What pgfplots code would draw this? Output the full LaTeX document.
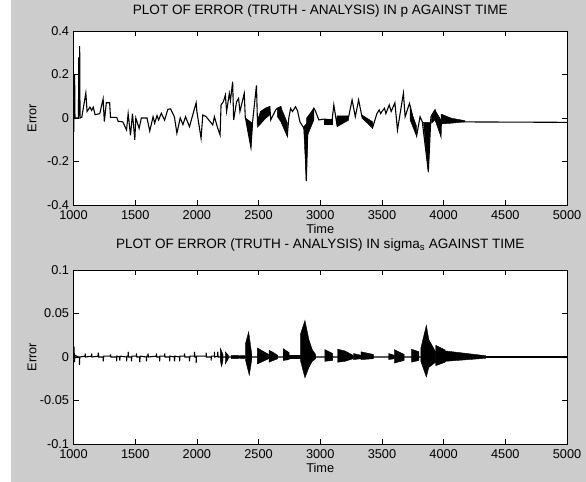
\documentclass[border=0pt]{standalone}
\usepackage{fontspec}
\setmainfont{Liberation Sans}
\usepackage{pgfplots}
\pgfplotsset{compat=1.18}
\definecolor{figgray}{RGB}{204,204,204}
\newcommand{\tickfont}{\fontsize{12.8}{15}\selectfont}
\newcommand{\titlefont}{\fontsize{13.6}{15}\selectfont}
\pgfplotsset{
  errplot/.style={
    scale only axis, width=493.5bp, height=174bp,
    xmin=1000, xmax=5000,
    xtick={1000,1500,...,5000},
    xticklabels={1000,1500,2000,2500,3000,3500,4000,4500,5000},
    axis background/.style={fill=white},
    axis line style={black, line width=0.6bp},
    major tick style={black, line width=0.6bp},
    major tick length=5bp,
    tick align=inside,
    minor tick num=0,
    ticklabel style={font=\tickfont},
    xticklabel style={anchor=base, yshift=-14.5bp},
    yticklabel style={anchor=east, xshift=-1bp},
    xlabel={Time}, ylabel={Error},
    label style={font=\tickfont},
    xlabel style={at={(axis description cs:0.5,-0.166)}, anchor=base},
    ylabel style={at={(axis description cs:-0.084,0.5)}, anchor=center},
    title style={font=\titlefont, at={(axis description cs:0.5,1)}, anchor=base},
    cycle list={{black, mark=none}},
  }
}
\begin{document}
\begin{tikzpicture}
\path[use as bounding box] (0,0) rectangle (586bp,482bp);
\fill[white] (0,0) rectangle (586bp,482bp);
\fill[figgray] (11bp,0) rectangle (586bp,482bp);

% ---- error in p ----
\begin{axis}[errplot, at={(73.5bp,451bp)}, anchor=north west,
  ymin=-0.4, ymax=0.4,
  ytick={-0.4,-0.2,0,0.2,0.4},
  yticklabels={-0.4,-0.2,0,0.2,0.4},
  title={PLOT OF ERROR (TRUTH - ANALYSIS) IN p AGAINST TIME},
  title style={yshift=11bp}]
\addplot[black, line width=1.1bp] coordinates {
(1000,0)(1002,-0.065)(1005,0.05)(1009,0.2)(1012,0)(1040,0)(1043,0.28)(1046,0.02)
(1050,0.33)(1053,0)(1067,0.003)(1100,0.115)(1110,0.03)(1133,0.05)(1147,0.035)
(1160,0.05)(1175,0.015)(1213,0.02)(1240,0.088)(1250,-0.017)(1266,0.07)(1293,0.07)
(1300,0.003)(1350,0.003)(1362,-0.015)(1400,-0.018)(1430,-0.055)(1443,0.02)
(1462,-0.08)(1478,0.02)(1497,-0.1)(1505,0)(1532,-0.048)(1550,0)(1596,0)
(1618,-0.06)(1645,0.006)(1658,-0.024)(1677,0.011)(1690,-0.009)(1712,0.022)
(1738,-0.01)(1765,0.04)(1787,0.042)(1818,0.005)(1838,-0.07)(1865,0)(1887,-0.03)
(1908,0.006)(1940,-0.04)(1994,0.07)(2000,0.03)(2034,-0.093)(2048,0.014)
(2075,0.006)(2129,-0.032)(2142,0.006)(2169,-0.047)(2188,-0.078)(2196,0.06)
(2215,0.075)(2231,0.106)(2241,0.03)(2263,0.113)(2272,0.08)(2290,0.167)
(2298,-0.009)(2322,0.075)(2338,0.09)(2349,0.03)(2384,0.113)(2392,0.006)
(2438,-0.135)(2451,-0.02)(2483,0.15)(2491,-0.02)(2518,0.03)(2559,0.045)
(2591,0.052)(2599,-0.009)(2639,0.037)(2653,0.045)(2680,0.052)(2690,-0.005)
(2733,-0.08)(2745,0)(2760,0.044)(2775,0.03)(2800,0.052)(2815,0.035)(2835,-0.017)
(2876,-0.055)(2887,-0.29)(2900,-0.02)(2910,0)(2948,0.045)(2957,0.037)
(2989,-0.009)(3030,-0.005)(3096,-0.009)(3110,0.06)(3137,-0.037)(3140,0.005)
(3230,0.005)(3258,0.083)(3284,0.006)(3311,0.083)(3338,0.006)(3379,-0.009)
(3424,-0.045)(3459,0.02)(3478,0.037)(3490,0.02)(3500,0.03)(3521,0.045)
(3532,0.02)(3559,0.06)(3575,0.03)(3605,0.07)(3626,-0.055)(3674,0.114)
(3688,0.006)(3723,0.067)(3740,0.03)(3782,-0.08)(3809,0.006)(3827,-0.017)
(3876,-0.246)(3897,0.006)(3930,0.037)(3978,-0.08)(3983,0.015)(4064,-0.01)
(4172,-0.018)(5000,-0.02)
};
% envelopes of the fast oscillation
\addplot[fill=black] coordinates {(2397,-0.001)(2438,-0.135)(2451,-0.024)} -- cycle;
\addplot[fill=black] coordinates {(2491,-0.009)(2518,0.029)(2559,0.045)(2591,0.052)(2591,0.014)(2559,-0.001)(2491,-0.043)} -- cycle;
\addplot[fill=black] coordinates {(2653,0.045)(2680,0.052)(2733,-0.022)(2733,-0.086)(2680,-0.017)(2653,0.006)} -- cycle;
\addplot[fill=black] coordinates {(2865,-0.04)(2887,-0.29)(2900,-0.02)} -- cycle;
\addplot[fill=black] coordinates {(2890,0)(2948,0.045)(2948,-0.01)(2890,-0.09)} -- cycle;
\addplot[fill=black] coordinates {(3030,-0.005)(3096,-0.005)(3096,-0.03)(3030,-0.03)} -- cycle;
\addplot[fill=black] coordinates {(3137,0.01)(3230,0.01)(3230,-0.01)(3137,-0.04)} -- cycle;
\addplot[fill=black] coordinates {(3338,0.014)(3424,-0.017)(3424,-0.047)(3338,-0.001)} -- cycle;
\addplot[fill=black] coordinates {(3728,0.045)(3782,-0.04)(3782,-0.086)(3728,-0.009)} -- cycle;
\addplot[fill=black] coordinates {(3836,-0.02)(3876,-0.25)(3892,-0.02)} -- cycle;
\addplot[fill=black] coordinates {(3903,0.014)(3930,0.037)(3978,-0.009)(3978,-0.086)(3930,-0.009)(3903,-0.024)} -- cycle;
\addplot[fill=black] coordinates {(3983,0.017)(4064,-0.001)(4172,-0.012)(4172,-0.018)(4064,-0.024)(3983,-0.027)} -- cycle;
\end{axis}

% ---- error in sigma_s ----
\begin{axis}[errplot, at={(73.5bp,212bp)}, anchor=north west,
  ymin=-0.1, ymax=0.1,
  ytick={-0.1,-0.05,0,0.05,0.1},
  yticklabels={-0.1,-0.05,0,0.05,0.1},
  title={PLOT OF ERROR (TRUTH - ANALYSIS) IN sigma\textsubscript{s} AGAINST TIME},
  title style={yshift=16bp}]
\addplot[black, line width=1.1bp] coordinates {
(1000,0.002)(1004,0.012)(1008,-0.006)(1012,0.002)(1040,0)
(1048,0)(1048,-0.009)(1051,0)(1094,0.001)(1094,0.004)(1097,0)
(1147,0.001)(1147,0.004)(1150,0)(1201,0.001)(1201,0.005)(1204,0)
(1241,0)(1241,-0.005)(1244,0.001)(1300,0.001)(1300,0.003)(1303,0)
(1349,0)(1349,-0.005)(1352,0.001)(1375,0)(1375,-0.004)(1378,0.001)
(1430,0)(1430,-0.005)(1433,0.001)(1443,0.001)(1443,0.006)(1446,0)
(1470,0)(1470,-0.005)(1473,0.001)(1510,0.001)(1510,0.004)(1513,0)
(1537,0)(1537,-0.006)(1540,0.001)(1591,0)(1591,-0.005)(1594,0.001)
(1604,0.001)(1604,0.004)(1607,0)(1672,0.001)(1672,0.004)(1675,0)
(1698,0)(1698,-0.005)(1701,0.001)(1739,0.001)(1739,0.004)(1742,0)
(1779,0)(1779,-0.005)(1782,0.001)(1819,0)(1819,-0.005)(1822,0.001)
(1860,0)(1860,-0.005)(1863,0.001)(1900,0.001)(1900,0.004)(1903,0)
(1940,0)(1940,-0.005)(1943,0.001)(1981,0.001)(1981,0.006)(1984,0)
(1994,0)(1994,-0.007)(1997,0.001)(2075,0.001)(2075,0.005)(2078,0)
(2115,0)(2115,-0.004)(2118,0.001)(2142,0.001)(2142,0.006)(2145,0)
(2169,0.001)(2169,0.006)(2172,0)(5000,0)
};
\addplot[black, line width=1.8bp] coordinates {(4300,0)(5000,0)};
% envelopes of the fast oscillation
\addplot[fill=black] coordinates {(2190,0.010)(2212,0.003)(2212,-0.004)(2200,-0.011)(2190,-0.004)} -- cycle;
\addplot[fill=black] coordinates {(2230,0.006)(2255,0.002)(2255,-0.002)(2230,-0.008)} -- cycle;
\addplot[fill=black] coordinates {(2280,0.002)(2390,0.0015)(2390,-0.0015)(2280,-0.002)} -- cycle;
\addplot[fill=black] coordinates {(2395,0.016)(2420,0.029)(2445,0.003)(2445,-0.003)(2425,-0.021)(2395,-0.004)} -- cycle;
\addplot[fill=black] coordinates {(2490,0.0104)(2582,0.003)(2582,-0.002)(2490,-0.008)} -- cycle;
\addplot[fill=black] coordinates {(2585,0.0077)(2610,0.006)(2655,0.002)(2655,-0.002)(2585,-0.006)} -- cycle;
\addplot[fill=black] coordinates {(2700,0.0096)(2748,0.005)(2748,-0.003)(2700,-0.004)} -- cycle;
\addplot[fill=black] coordinates {(2750,0.0015)(2835,0.0015)(2835,-0.0015)(2750,-0.0015)} -- cycle;
\addplot[fill=black] coordinates {(2841,0.027)(2876,0.042)(2908,0.02)(2935,0.0085)(2962,0.003)(2962,-0.002)(2935,-0.005)(2908,-0.012)(2876,-0.024)(2841,-0.005)} -- cycle;
\addplot[fill=black] coordinates {(3037,0.0085)(3100,0.004)(3100,-0.004)(3037,-0.005)} -- cycle;
\addplot[fill=black] coordinates {(3140,0.009)(3200,0.007)(3265,0.002)(3265,-0.002)(3200,-0.005)(3140,-0.006)} -- cycle;
\addplot[fill=black] coordinates {(3270,0.004)(3330,0.002)(3330,-0.002)(3270,-0.003)} -- cycle;
\addplot[fill=black] coordinates {(3330,0.006)(3430,0.003)(3430,-0.002)(3330,-0.003)} -- cycle;
\addplot[fill=black] coordinates {(3555,0.004)(3600,0.002)(3600,-0.002)(3555,-0.003)} -- cycle;
\addplot[fill=black] coordinates {(3600,0.0085)(3680,0.003)(3680,-0.004)(3600,-0.007)} -- cycle;
\addplot[fill=black] coordinates {(3740,0.009)(3800,0.006)(3800,-0.004)(3740,-0.006)} -- cycle;
\addplot[fill=black] coordinates {(3815,0.01)(3860,0.0365)(3880,0.02)(3935,0.006)(3935,-0.006)(3880,-0.012)(3860,-0.023)(3815,-0.005)} -- cycle;
\addplot[fill=black] coordinates {(3936,0.0135)(4012,0.008)(4012,-0.006)(3936,-0.01)} -- cycle;
\addplot[fill=black] coordinates {(4012,0.007)(4340,0.0015)(4340,-0.0015)(4012,-0.005)} -- cycle;
\end{axis}
\end{tikzpicture}
\end{document}
